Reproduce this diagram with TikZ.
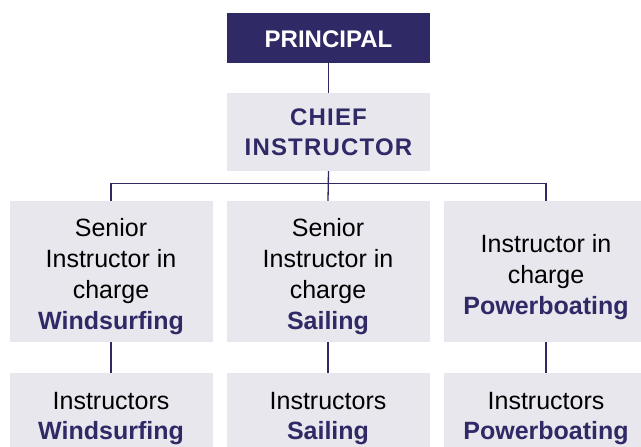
\documentclass[tikz,border=0pt]{standalone}
\usepackage{fontspec}
\setmainfont{Liberation Sans}
\definecolor{navy}{HTML}{2F2966}
\definecolor{boxgrey}{HTML}{E8E7EE}
\newcommand\hl[1]{{\bfseries\color{navy}#1}}
\begin{document}
\begin{tikzpicture}[x=1pt,y=-1pt,
  box/.style={fill=boxgrey, inner sep=0pt},
  midbox/.style={box, minimum width=203pt, minimum height=141pt},
  lowbox/.style={box, minimum width=203pt, minimum height=84pt},
  midtxt/.style={inner sep=0pt, align=center, font=\fontsize{25}{31}\selectfont, yshift=-5.5pt},
  lowtxt/.style={inner sep=0pt, align=center, font=\fontsize{25}{30}\selectfont, yshift=-4pt},
  link/.style={draw=navy, line width=1.3pt}]
\useasboundingbox (0,0) rectangle (641,447);
\clip (0,0) rectangle (641,447);
\node[fill=navy, minimum width=203pt, minimum height=50pt, inner sep=0pt] (principal) at (328.5,38) {};
\node[text=white, inner sep=0pt, font=\fontsize{24}{26}\selectfont\bfseries, yshift=-1.5pt] (principalt) at (principal.center) {PRINCIPAL};
\node[box, minimum width=203pt, minimum height=78pt, text=navy, align=center,
  font=\fontsize{24}{30}\selectfont\bfseries\addfontfeatures{LetterSpace=5}] (chief) at (328.5,132) {CHIEF\\INSTRUCTOR};
\node[midbox] (sw) at (111,271.5) {};
\node[midbox] (ss) at (328,271.5) {};
\node[midbox, minimum width=204pt] (sp) at (546,271.5) {};
\node[lowbox] (iw) at (111,415) {};
\node[lowbox] (is) at (328,415) {};
\node[lowbox, minimum width=204pt] (ip) at (546,415) {};
\node[midtxt] (swt) at (sw.center) {Senior\\Instructor in\\charge\\\hl{Windsurfing}};
\node[midtxt] (sst) at (ss.center) {Senior\\Instructor in\\charge\\\hl{Sailing}};
\node[midtxt] (spt) at (sp.center) {Instructor in\\charge\\\hl{Powerboating}};
\node[lowtxt] (iwt) at (iw.center) {Instructors\\\hl{Windsurfing}};
\node[lowtxt] (ist) at (is.center) {Instructors\\\hl{Sailing}};
\node[lowtxt] (ipt) at (ip.center) {Instructors\\\hl{Powerboating}};
\draw[link] (principal.south) -- (chief.north);
\draw[link] (chief.south) -- (ss.north);
\draw[link] (sw.north) -- ++(0,-17) -| (sp.north);
\draw[link] (sw.south) -- (iw.north);
\draw[link] (ss.south) -- (is.north);
\draw[link] (sp.south) -- (ip.north);
\end{tikzpicture}
\end{document}
